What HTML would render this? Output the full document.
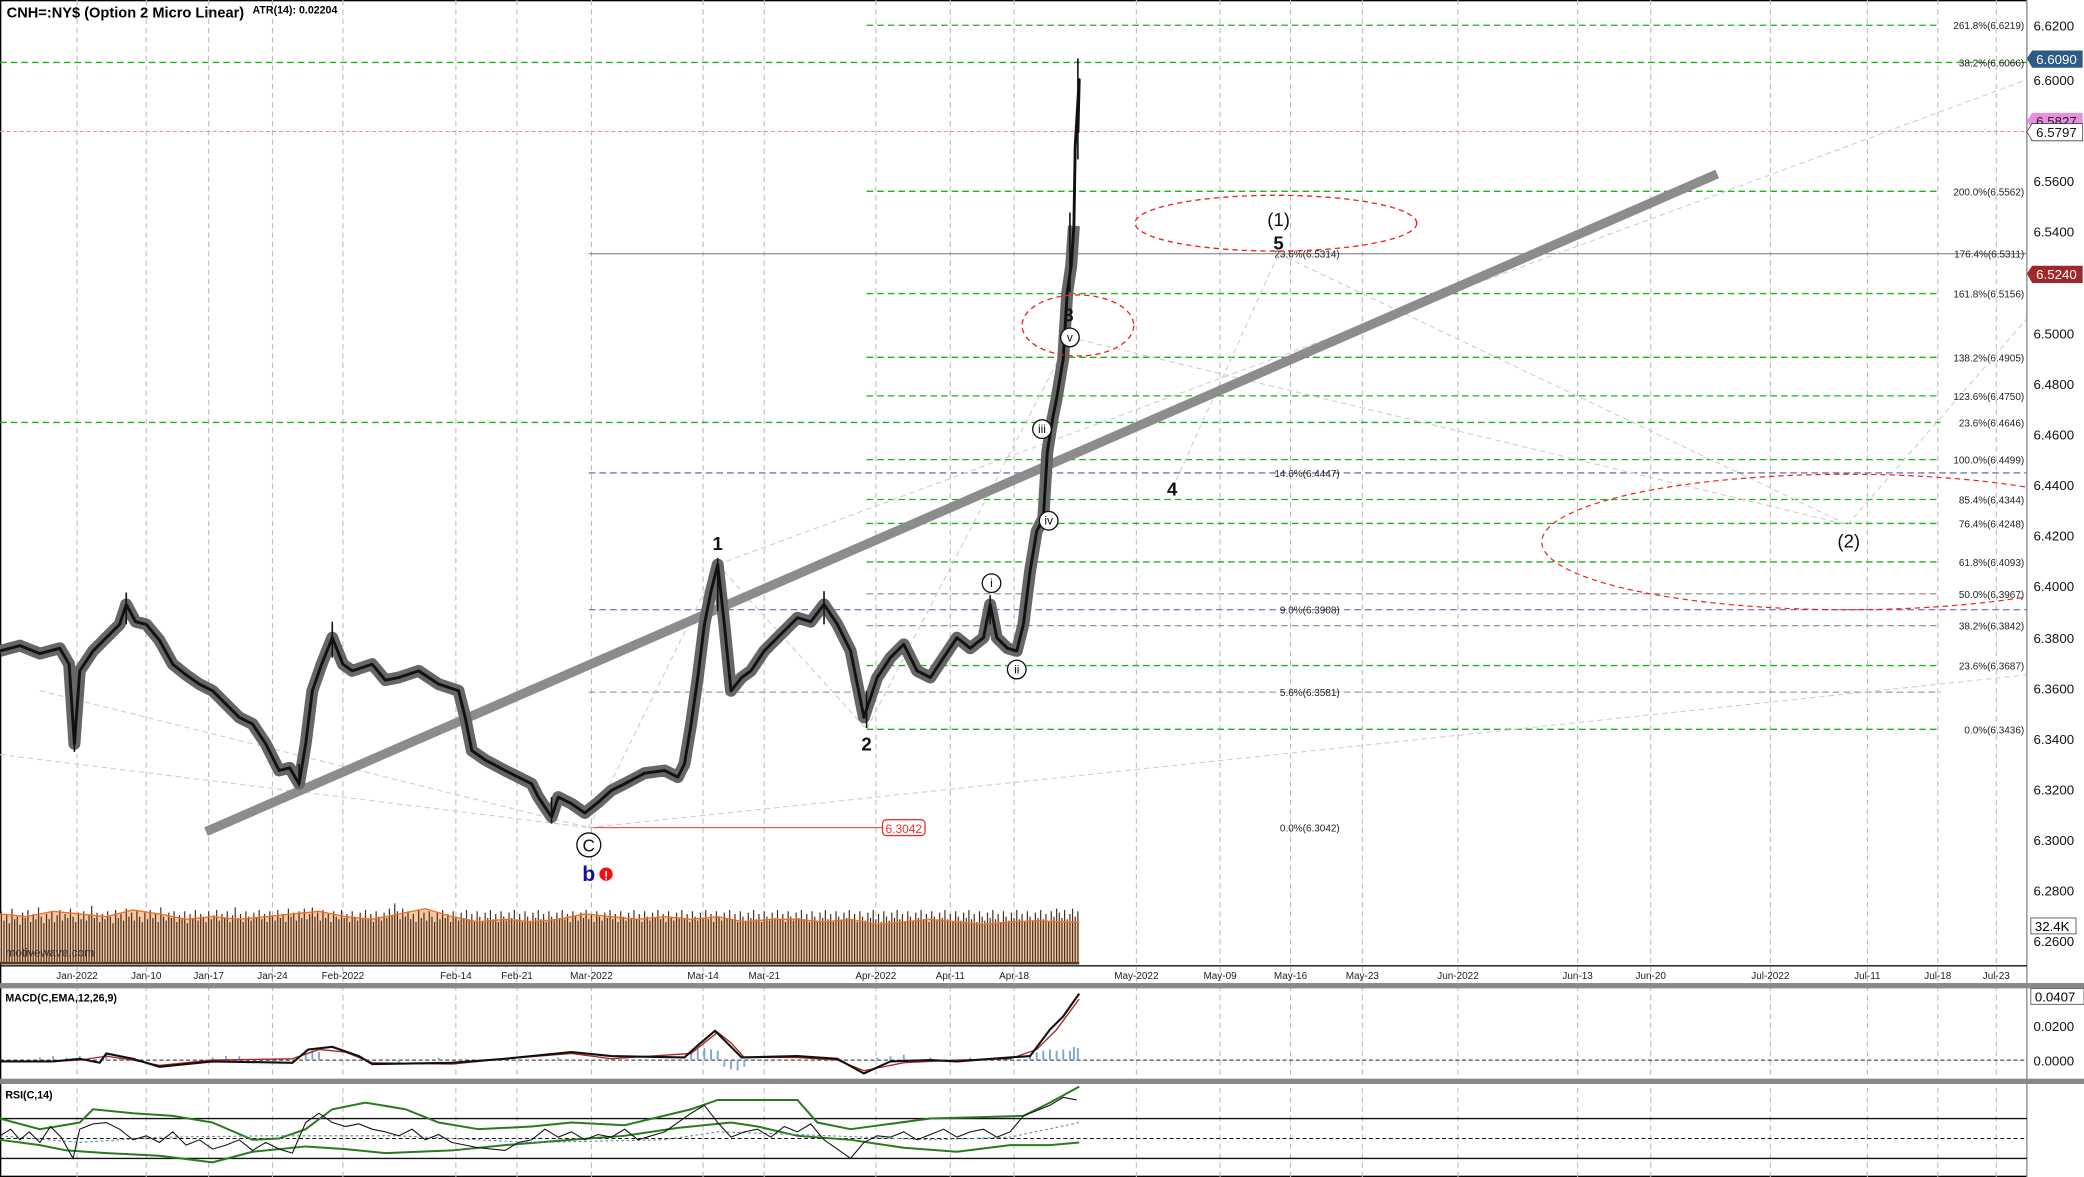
<!DOCTYPE html>
<html><head><meta charset="utf-8"><style>
html,body{margin:0;padding:0;background:#fff;}
svg{display:block;font-family:"Liberation Sans",Arial,sans-serif;}
</style></head><body>
<svg width="2084" height="1177" viewBox="0 0 1568 886" preserveAspectRatio="none" xmlns="http://www.w3.org/2000/svg">
<defs><clipPath id="pc"><rect x="0" y="0" width="1525" height="727"/></clipPath></defs>
<rect width="1568" height="886" fill="#fff"/>
<rect x="0.5" y="0.5" width="1567" height="885" fill="none" stroke="#000"/>
<g stroke="#bbb" stroke-dasharray="4,3" stroke-width="0.8">
<line x1="58" y1="0" x2="58" y2="886"/><line x1="110" y1="0" x2="110" y2="886"/><line x1="157" y1="0" x2="157" y2="886"/><line x1="205" y1="0" x2="205" y2="886"/><line x1="258" y1="0" x2="258" y2="886"/><line x1="343" y1="0" x2="343" y2="886"/><line x1="389" y1="0" x2="389" y2="886"/><line x1="445" y1="0" x2="445" y2="886"/><line x1="529" y1="0" x2="529" y2="886"/><line x1="575" y1="0" x2="575" y2="886"/><line x1="659" y1="0" x2="659" y2="886"/><line x1="715" y1="0" x2="715" y2="886"/><line x1="763" y1="0" x2="763" y2="886"/><line x1="855" y1="0" x2="855" y2="886"/><line x1="918" y1="0" x2="918" y2="886"/><line x1="971" y1="0" x2="971" y2="886"/><line x1="1025" y1="0" x2="1025" y2="886"/><line x1="1097" y1="0" x2="1097" y2="886"/><line x1="1187" y1="0" x2="1187" y2="886"/><line x1="1242" y1="0" x2="1242" y2="886"/><line x1="1332" y1="0" x2="1332" y2="886"/><line x1="1405" y1="0" x2="1405" y2="886"/><line x1="1458" y1="0" x2="1458" y2="886"/><line x1="1502" y1="0" x2="1502" y2="886"/>
</g>
<text x="5" y="13" font-size="11" font-weight="bold">CNH=:NY$ (Option 2 Micro Linear)</text>
<text x="190" y="10" font-size="8" font-weight="bold">ATR(14): 0.02204</text>
<g stroke="#1db31d" stroke-dasharray="5,3" stroke-width="1">
<line x1="652" y1="19" x2="1460" y2="19"/>
<line x1="0" y1="47" x2="1525" y2="47"/>
<line x1="652" y1="144" x2="1460" y2="144"/>
<line x1="652" y1="221" x2="1460" y2="221"/>
<line x1="652" y1="269" x2="1460" y2="269"/>
<line x1="652" y1="298" x2="1460" y2="298"/>
<line x1="0" y1="318" x2="1460" y2="318"/>
<line x1="652" y1="346" x2="1460" y2="346"/>
<line x1="652" y1="376" x2="1460" y2="376"/>
<line x1="652" y1="394" x2="1460" y2="394"/>
<line x1="652" y1="423" x2="1460" y2="423"/>
<line x1="652" y1="501" x2="1460" y2="501"/>
<line x1="652" y1="549" x2="1460" y2="549"/>
</g>
<g stroke="#888" stroke-dasharray="5,3" stroke-width="0.8">
<line x1="652" y1="447" x2="1460" y2="447"/><line x1="652" y1="471" x2="1460" y2="471"/><line x1="443" y1="521" x2="1460" y2="521"/>
</g>
<g stroke="#5555aa" stroke-dasharray="5,3" stroke-width="0.8">
<line x1="443" y1="356" x2="1525" y2="356"/><line x1="443" y1="459" x2="1525" y2="459"/>
</g>
<line x1="443" y1="191" x2="1525" y2="191" stroke="#777" stroke-width="0.8"/>
<line x1="0" y1="99" x2="1525" y2="99" stroke="#f88" stroke-dasharray="3,2" stroke-width="0.8"/>
<line x1="443" y1="623" x2="665" y2="623" stroke="#e33" stroke-width="0.8"/>
<rect x="664" y="617" width="32" height="12" rx="3" fill="#fff" stroke="#e33"/>
<text x="680" y="627" font-size="9" fill="#e33" text-anchor="middle">6.3042</text>
<g font-size="7.5" fill="#222" text-anchor="end">
<text x="1523" y="22">261.8%(6.6219)</text><text x="1523" y="50">38.2%(6.6066)</text><text x="1523" y="147">200.0%(6.5562)</text><text x="1523" y="194">176.4%(6.5311)</text><text x="1523" y="224">161.8%(6.5156)</text><text x="1523" y="272">138.2%(6.4905)</text><text x="1523" y="301">123.6%(6.4750)</text><text x="1523" y="321">23.6%(6.4646)</text><text x="1523" y="349">100.0%(6.4499)</text><text x="1523" y="379">85.4%(6.4344)</text><text x="1523" y="397">76.4%(6.4248)</text><text x="1523" y="426">61.8%(6.4093)</text><text x="1523" y="450">50.0%(6.3967)</text><text x="1523" y="474">38.2%(6.3842)</text><text x="1523" y="504">23.6%(6.3687)</text><text x="1523" y="552">0.0%(6.3436)</text>
<text x="1008" y="359">14.6%(6.4447)</text><text x="1008" y="194">23.6%(6.5314)</text><text x="1008" y="462">9.0%(6.3908)</text><text x="1008" y="524">5.6%(6.3581)</text><text x="1008" y="626">0.0%(6.3042)</text>
</g>
<g stroke="#ccc" stroke-dasharray="4,3" stroke-width="0.8" fill="none">
<line x1="0" y1="568" x2="443" y2="623"/><line x1="443" y1="623" x2="1525" y2="508"/><line x1="30" y1="520" x2="443" y2="623"/><line x1="540" y1="425" x2="1525" y2="60"/><line x1="443" y1="623" x2="540" y2="425"/><line x1="540" y1="425" x2="652" y2="549"/><line x1="652" y1="549" x2="805" y2="254"/><line x1="805" y1="254" x2="1390" y2="395"/><line x1="882" y1="368" x2="962" y2="191"/><line x1="962" y1="191" x2="1390" y2="395"/><line x1="1390" y1="395" x2="1525" y2="240"/>
</g>
<!-- volume -->
<path d="M0,688 L20,690 L40,686 L60,688 L80,690 L100,685 L120,688 L140,692 L160,690 L180,692 L200,690 L220,688 L240,686 L260,690 L280,692 L300,688 L320,684 L340,690 L360,694 L380,692 L400,694 L420,692 L440,688 L460,690 L480,692 L500,690 L520,692 L540,690 L560,694 L580,692 L600,692 L620,694 L640,692 L660,696 L680,694 L700,692 L720,694 L740,696 L760,694 L780,693 L800,694 L812,694 L812,725 L0,725Z" fill="#f3c8a4"/>
<g stroke="#4a3020" stroke-width="0.9">
<path d="M1,724V686M3,724V693M5,724V689M7,724V695M9,724V684M11,724V692M13,724V690M15,724V696M17,724V687M19,724V691M21,724V685M23,724V694M25,724V688M27,724V692M29,724V683M31,724V690M33,724V695M35,724V688M37,724V692M39,724V686M41,724V694M43,724V689M45,724V685M47,724V693M49,724V688M51,724V691M53,724V684M55,724V690M57,724V694M59,724V687M61,724V692M63,724V686M65,724V693M67,724V689M69,724V682M71,724V691M73,724V687M75,724V694M77,724V688M79,724V692M81,724V686M83,724V690M85,724V695M87,724V685M89,724V691M91,724V688M93,724V693M95,724V684M97,724V690M99,724V687"/>
<path d="M101,724V693M103,724V686M105,724V690M107,724V694M109,724V687M111,724V692M113,724V685M115,724V691M117,724V688M119,724V694M121,724V683M123,724V690M125,724V693M127,724V687M129,724V691M131,724V686M133,724V694M135,724V689M137,724V692M139,724V686M141,724V695M143,724V688M145,724V691M147,724V685M149,724V693M151,724V688M153,724V690M155,724V694M157,724V686M159,724V692M161,724V689M163,724V685M165,724V693M167,724V688M169,724V691M171,724V686M173,724V694M175,724V689M177,724V683M179,724V691M181,724V688M183,724V694M185,724V686M187,724V690M189,724V693M191,724V687M193,724V691M195,724V685M197,724V692M199,724V688"/>
<path d="M201,724V694M203,724V686M205,724V690M207,724V693M209,724V685M211,724V691M213,724V688M215,724V694M217,724V684M219,724V690M221,724V687M223,724V693M225,724V686M227,724V691M229,724V684M231,724V692M233,724V688M235,724V683M237,724V690M239,724V687M241,724V693M243,724V685M245,724V691M247,724V688M249,724V694M251,724V686M253,724V690M255,724V692M257,724V685M259,724V691M261,724V688M263,724V694M265,724V686M267,724V690M269,724V693M271,724V687M273,724V691M275,724V685M277,724V692M279,724V688M281,724V694M283,724V686M285,724V690M287,724V693M289,724V687M291,724V691M293,724V684M295,724V689M297,724V680M299,724V686M301,724V692M303,724V684"/>
<path d="M305,724V690M307,724V686M309,724V692M311,724V688M313,724V694M315,724V685M317,724V691M319,724V687M321,724V693M323,724V686M325,724V690M327,724V694M329,724V687M331,724V692M333,724V685M335,724V691M337,724V688M339,724V694M341,724V686M343,724V690M345,724V693M347,724V687M349,724V691M351,724V685M353,724V692M355,724V688M357,724V694M359,724V686M361,724V690M363,724V693M365,724V687M367,724V691M369,724V685M371,724V692M373,724V688M375,724V694M377,724V686M379,724V690M381,724V693M383,724V687M385,724V691M387,724V685M389,724V692M391,724V688M393,724V694M395,724V686M397,724V690M399,724V693M401,724V687M403,724V691M405,724V685M407,724V692M409,724V688M411,724V694M413,724V686M415,724V690M417,724V693M419,724V687M421,724V691M423,724V685M425,724V692M427,724V688M429,724V694M431,724V686M433,724V690M435,724V693M437,724V687M439,724V691M441,724V685M443,724V692M445,724V688M447,724V694"/>
<path d="M449,724V686M451,724V690M453,724V693M455,724V687M457,724V691M459,724V685M461,724V692M463,724V688M465,724V694M467,724V686M469,724V690M471,724V693M473,724V687M475,724V691M477,724V685M479,724V692M481,724V688M483,724V694M485,724V686M487,724V690M489,724V693M491,724V687M493,724V691M495,724V685M497,724V692M499,724V688M501,724V694M503,724V686M505,724V690M507,724V693M509,724V687M511,724V691M513,724V685M515,724V692M517,724V688M519,724V694M521,724V686M523,724V690M525,724V693M527,724V687M529,724V691M531,724V685M533,724V692M535,724V688M537,724V694M539,724V686M541,724V690M543,724V693M545,724V687M547,724V691M549,724V685M551,724V692M553,724V688M555,724V694M557,724V686M559,724V690M561,724V693M563,724V687M565,724V691M567,724V685M569,724V692M571,724V688M573,724V694M575,724V686M577,724V690M579,724V693M581,724V687M583,724V691M585,724V685M587,724V692M589,724V688M591,724V694M593,724V686M595,724V690M597,724V693M599,724V687"/>
<path d="M601,724V691M603,724V685M605,724V692M607,724V688M609,724V694M611,724V686M613,724V690M615,724V693M617,724V687M619,724V691M621,724V685M623,724V692M625,724V688M627,724V694M629,724V686M631,724V690M633,724V693M635,724V687M637,724V691M639,724V685M641,724V692M643,724V688M645,724V694M647,724V686M649,724V690M651,724V693M653,724V687M655,724V691M657,724V685M659,724V692M661,724V688M663,724V694M665,724V686M667,724V690M669,724V693M671,724V687M673,724V691M675,724V685M677,724V692M679,724V688M681,724V694M683,724V686M685,724V690M687,724V693M689,724V687M691,724V691M693,724V685M695,724V692M697,724V688M699,724V694M701,724V686M703,724V690M705,724V693M707,724V687M709,724V691M711,724V685M713,724V692M715,724V688M717,724V694M719,724V686M721,724V690M723,724V693M725,724V687M727,724V691M729,724V685M731,724V692M733,724V688M735,724V694M737,724V686M739,724V690M741,724V693M743,724V687M745,724V691M747,724V685M749,724V692M751,724V688M753,724V694M755,724V686M757,724V690M759,724V693M761,724V687M763,724V691M765,724V685M767,724V692M769,724V688M771,724V694M773,724V686M775,724V690M777,724V693M779,724V687M781,724V691M783,724V685M785,724V692M787,724V688M789,724V694M791,724V686M793,724V690M795,724V684M797,724V687M799,724V691M801,724V685M803,724V692M805,724V688M807,724V684M809,724V690M811,724V686"/>
</g>
<path d="M0,688 L20,690 L40,686 L60,688 L80,690 L100,685 L120,688 L140,692 L160,690 L180,692 L200,690 L220,688 L240,686 L260,690 L280,692 L300,688 L320,684 L340,690 L360,694 L380,692 L400,694 L420,692 L440,688 L460,690 L480,692 L500,690 L520,692 L540,690 L560,694 L580,692 L600,692 L620,694 L640,692 L660,696 L680,694 L700,692 L720,694 L740,696 L760,694 L780,693 L800,694 L812,694" stroke="#f07020" stroke-width="1" fill="none"/>
<rect x="0" y="724" width="812" height="2" fill="#5a3a20"/>
<text x="4" y="720" font-size="9" fill="#333">motivewave.com</text>
<line x1="155" y1="626" x2="1292" y2="131" stroke="#8c8c8c" stroke-width="7"/>
<!-- price -->
<g fill="none" stroke-linejoin="round">
<polyline stroke="#666" stroke-width="9" points="0,490 15,486 30,492 45,488 52,500 56,560 60,505 70,490 80,480 90,470 95,455 102,468 110,470 120,482 130,500 140,508 150,515 160,520 170,530 180,540 190,545 200,560 210,580 218,578 225,590 230,560 235,520 242,500 250,480 258,500 265,505 280,500 290,512 300,510 315,505 330,515 345,520 350,540 355,565 365,572 380,580 390,585 400,590 405,600 415,615 420,600 430,605 440,612 450,604 460,595 470,590 485,582 500,580 510,585 515,575 520,545 525,510 530,470 535,445 540,425 545,470 550,520 558,510 565,505 575,490 585,480 595,470 600,465 610,468 620,455 630,470 640,490 645,515 650,540 655,525 660,510 670,495 680,485 690,505 700,510 710,495 720,480 730,488 740,480 745,455 750,480 758,488 765,490 770,470 775,430 780,400 785,390 788,340 792,315 795,300 800,270 803,220 806,200 808,170"/>
<polyline stroke="#111" stroke-width="2.2" points="0,490 15,486 30,492 45,488 52,500 56,560 60,505 70,490 80,480 90,470 95,455 102,468 110,470 120,482 130,500 140,508 150,515 160,520 170,530 180,540 190,545 200,560 210,580 218,578 225,590 230,560 235,520 242,500 250,480 258,500 265,505 280,500 290,512 300,510 315,505 330,515 345,520 350,540 355,565 365,572 380,580 390,585 400,590 405,600 415,615 420,600 430,605 440,612 450,604 460,595 470,590 485,582 500,580 510,585 515,575 520,545 525,510 530,470 535,445 540,425 545,470 550,520 558,510 565,505 575,490 585,480 595,470 600,465 610,468 620,455 630,470 640,490 645,515 650,540 655,525 660,510 670,495 680,485 690,505 700,510 710,495 720,480 730,488 740,480 745,455 750,480 758,488 765,490 770,470 775,430 780,400 785,390 788,340 792,315 795,300 800,270 803,220 806,200 808,170 809,110 812,60 811,100"/>
</g>
<g stroke="#111" stroke-width="1.2">
<line x1="56" y1="545" x2="56" y2="566"/><line x1="95" y1="446" x2="95" y2="470"/><line x1="540" y1="420" x2="540" y2="460"/><line x1="652" y1="520" x2="652" y2="548"/><line x1="811" y1="44" x2="811" y2="120"/><line x1="805" y1="160" x2="805" y2="220"/><line x1="225" y1="575" x2="225" y2="592"/><line x1="415" y1="600" x2="415" y2="620"/><line x1="250" y1="468" x2="250" y2="495"/><line x1="620" y1="445" x2="620" y2="470"/><line x1="745" y1="448" x2="745" y2="470"/>
</g>
<g fill="none" stroke="#e22" stroke-dasharray="4,3" stroke-width="1">
<ellipse cx="960" cy="168" rx="106" ry="21"/>
<ellipse cx="811" cy="245" rx="42" ry="23"/>
<ellipse cx="1390" cy="408" rx="230" ry="51" clip-path="url(#pc)" stroke-width="0.9"/>
</g>
<g font-size="14" font-weight="bold" text-anchor="middle" fill="#111">
<text x="540" y="414">1</text><text x="652" y="565">2</text><text x="804" y="242">3</text><text x="882" y="373">4</text><text x="962" y="188">5</text>
</g>
<g font-size="14" text-anchor="middle" fill="#111"><text x="962" y="170">(1)</text><text x="1391" y="412">(2)</text></g>
<g fill="#fff" stroke="#111" stroke-width="1">
<circle cx="443" cy="636" r="9"/><circle cx="746" cy="439" r="7"/><circle cx="765" cy="504" r="7"/><circle cx="784" cy="323" r="7"/><circle cx="789" cy="392" r="7"/><circle cx="805" cy="254" r="7"/>
</g>
<g font-size="9" text-anchor="middle" fill="#111"><text x="443" y="641" font-size="13">C</text><text x="746" y="442">i</text><text x="765" y="507">ii</text><text x="784" y="326">iii</text><text x="789" y="395">iv</text><text x="805" y="257">v</text></g>
<text x="443" y="663" font-size="16" font-weight="bold" fill="#11119a" text-anchor="middle">b</text>
<circle cx="456" cy="658" r="5" fill="#e11"/><text x="456" y="662" font-size="9" fill="#fff" font-weight="bold" text-anchor="middle">!</text>
<rect x="1525" y="0" width="43" height="886" fill="#fff"/>
<line x1="1525" y1="0" x2="1525" y2="886" stroke="#888"/>
<g font-size="10" fill="#111">
<text x="1530" y="23">6.6200</text><text x="1530" y="64">6.6000</text><text x="1530" y="140">6.5600</text><text x="1530" y="178">6.5400</text><text x="1530" y="255">6.5000</text><text x="1530" y="293">6.4800</text><text x="1530" y="331">6.4600</text><text x="1530" y="369">6.4400</text><text x="1530" y="407">6.4200</text><text x="1530" y="445">6.4000</text><text x="1530" y="484">6.3800</text><text x="1530" y="522">6.3600</text><text x="1530" y="560">6.3400</text><text x="1530" y="598">6.3200</text><text x="1530" y="636">6.3000</text><text x="1530" y="674">6.2800</text><text x="1530" y="712">6.2600</text>
</g>
<path d="M1525,44 l4,-6 h38 v13 h-38z" fill="#2e5b86"/><text x="1532" y="48" font-size="10" fill="#fff">6.6090</text>
<path d="M1525,91 l4,-6 h38 v12 h-38z" fill="#e890e0"/><text x="1532" y="95" font-size="10" fill="#222">6.5827</text>
<path d="M1525,99 l4,-6 h38 v13 h-38z" fill="#fff" stroke="#444" stroke-width="0.6"/><text x="1532" y="103" font-size="10" fill="#111">6.5797</text>
<path d="M1525,206 l4,-6 h38 v13 h-38z" fill="#a02828"/><text x="1532" y="210" font-size="10" fill="#fff">6.5240</text>
<rect x="1528" y="691" width="34" height="12" fill="#fff" stroke="#444" stroke-width="0.6"/><text x="1531" y="701" font-size="10">32.4K</text>
<line x1="0" y1="727" x2="1525" y2="727" stroke="#111"/>
<g font-size="7.5" fill="#222" text-anchor="middle">
<text x="58" y="737">Jan-2022</text><text x="110" y="737">Jan-10</text><text x="157" y="737">Jan-17</text><text x="205" y="737">Jan-24</text><text x="258" y="737">Feb-2022</text><text x="343" y="737">Feb-14</text><text x="389" y="737">Feb-21</text><text x="445" y="737">Mar-2022</text><text x="529" y="737">Mar-14</text><text x="575" y="737">Mar-21</text><text x="659" y="737">Apr-2022</text><text x="715" y="737">Apr-11</text><text x="763" y="737">Apr-18</text><text x="855" y="737">May-2022</text><text x="918" y="737">May-09</text><text x="971" y="737">May-16</text><text x="1025" y="737">May-23</text><text x="1097" y="737">Jun-2022</text><text x="1187" y="737">Jun-13</text><text x="1242" y="737">Jun-20</text><text x="1332" y="737">Jul-2022</text><text x="1405" y="737">Jul-11</text><text x="1458" y="737">Jul-18</text><text x="1502" y="737">Jul-23</text>
</g>
<rect x="0" y="740" width="1568" height="4" fill="#888"/>
<rect x="0" y="812" width="1568" height="4" fill="#888"/>
<text x="4" y="754" font-size="8" font-weight="bold">MACD(C,EMA,12,26,9)</text>
<line x1="0" y1="798" x2="1525" y2="798" stroke="#222" stroke-dasharray="3,2" stroke-width="0.8"/>
<path d="M30,798V796M40,798V795M50,798V796M60,798V795M80,798V794M90,798V796M160,798V796M170,798V795M180,798V795M230,798V790M235,798V789M240,798V792M300,798V801M330,798V796M380,798V796M420,798V796M520,798V792M525,798V790M530,798V789M535,798V790M540,798V791M545,798V803M550,798V805M555,798V806M560,798V803M660,798V796M670,798V795M680,798V794M700,798V796M730,798V796M775,798V794M780,798V792M785,798V791M790,798V790M795,798V791M800,798V790M805,798V791M808,798V788M811,798V789" stroke="#7aa6d8" stroke-width="1.4"/>
<polyline fill="none" stroke="#a22" stroke-width="1" points="0,799 40,799 60,798 80,795 100,798 120,802 160,798 220,797 240,790 260,792 280,800 340,801 380,797 430,793 460,797 520,793 540,777 550,785 560,796 600,796 630,798 650,806 680,800 720,798 760,797 780,790 795,775 812,752"/>
<polyline fill="none" stroke="#111" stroke-width="1.6" points="0,799 40,799 60,797 75,800 80,793 100,797 120,803 160,799 220,800 232,790 250,788 270,795 280,801 340,800 380,797 430,792 460,795 515,796 525,787 538,776 548,786 558,796 600,795 630,797 650,808 670,799 700,798 720,799 760,796 775,795 790,775 800,765 812,748"/>
<g font-size="10" fill="#111"><text x="1530" y="776">0.0200</text><text x="1530" y="802">0.0000</text></g>
<rect x="1528" y="744" width="40" height="12" fill="#fff" stroke="#444" stroke-width="0.6"/><text x="1531" y="754" font-size="10">0.0407</text>
<text x="4" y="827" font-size="8" font-weight="bold">RSI(C,14)</text>
<g stroke="#111" stroke-width="1"><line x1="0" y1="842" x2="1525" y2="842"/><line x1="0" y1="872" x2="1525" y2="872"/></g>
<line x1="0" y1="857" x2="1525" y2="857" stroke="#111" stroke-dasharray="3,2" stroke-width="0.8"/>
<g fill="none" stroke="#2a7a20" stroke-width="1.5">
<polyline points="0,842 30,850 60,845 70,835 100,838 130,840 160,845 190,858 210,857 230,850 250,835 275,830 305,835 330,845 360,850 400,848 430,845 470,847 520,835 540,828 600,828 615,845 640,850 700,842 770,840 790,830 812,818"/>
<polyline points="0,858 30,862 50,866 80,868 120,870 160,875 190,867 230,863 260,865 290,868 340,866 380,862 430,858 470,855 510,849 550,845 570,848 600,855 640,858 680,864 720,867 760,862 790,862 812,860"/>
</g>
<polyline fill="none" stroke="#5a8a9a" stroke-width="0.8" stroke-dasharray="2,2" points="0,855 60,860 120,856 200,855 300,855 400,860 500,858 540,852 600,854 700,858 760,856 812,845"/>
<polyline fill="none" stroke="#111" stroke-width="0.8" points="0,855 8,850 15,858 22,852 30,860 38,848 46,856 55,872 60,850 70,846 80,845 90,850 100,858 110,855 120,860 130,852 140,862 150,858 160,865 170,862 180,858 190,866 200,860 210,865 220,868 230,845 240,838 250,845 260,848 270,846 280,850 290,852 300,855 310,850 320,858 330,854 340,860 350,862 360,864 380,866 390,860 400,858 410,850 420,856 430,852 440,858 450,854 460,856 470,850 480,858 500,852 510,845 520,838 530,832 540,845 550,856 560,852 570,850 580,856 590,848 600,852 610,846 620,858 630,865 640,872 650,860 660,855 670,856 680,852 690,858 700,854 710,850 720,856 730,852 740,850 750,856 760,852 770,840 780,836 790,832 800,826 810,828"/>
</svg>
</body></html>
